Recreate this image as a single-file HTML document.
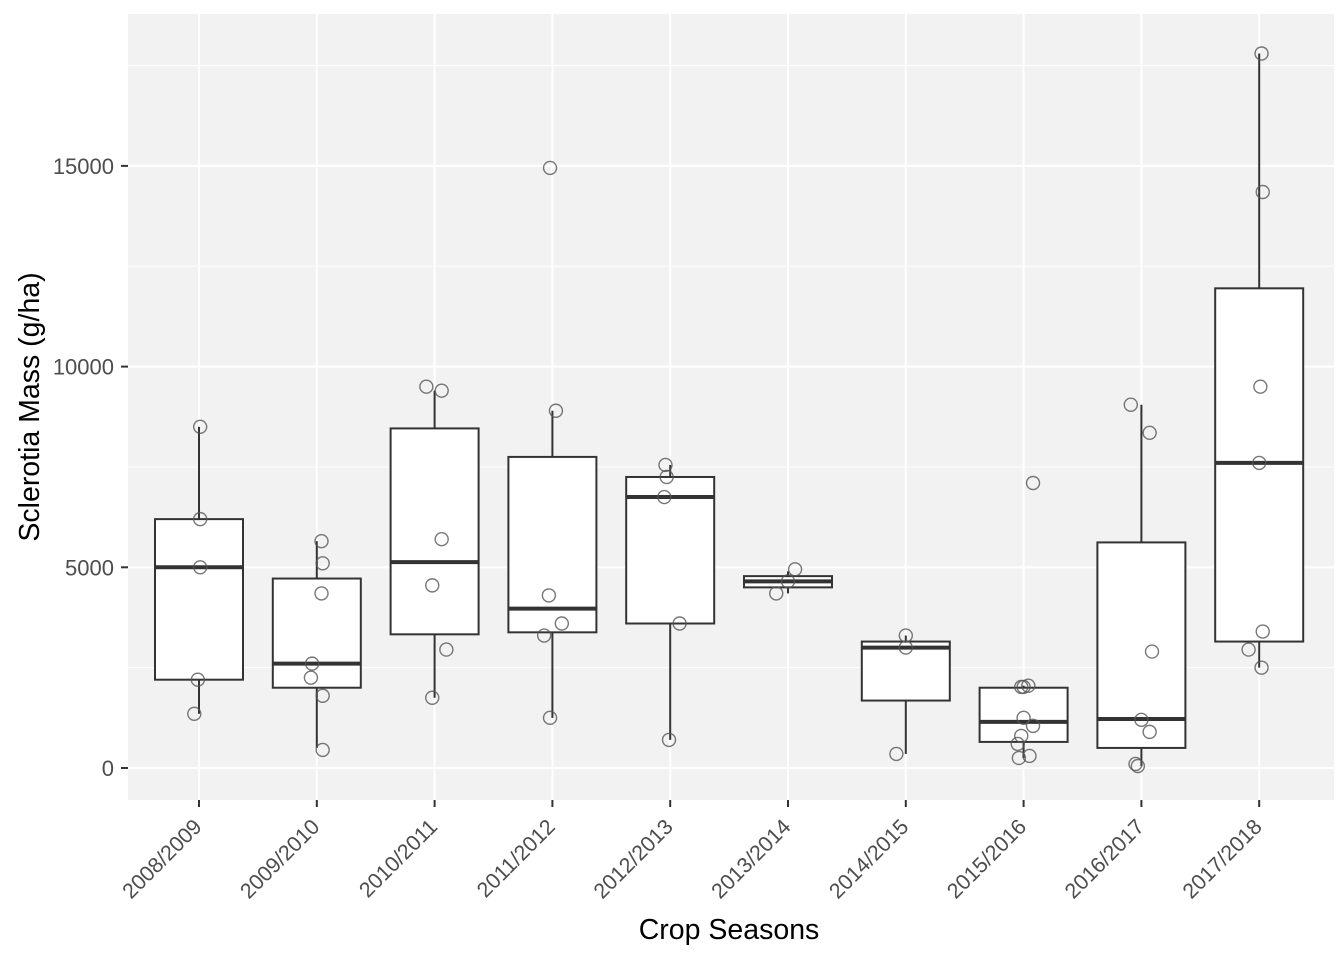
<!DOCTYPE html>
<html><head><meta charset="utf-8">
<style>
html,body{margin:0;padding:0;background:#fff;}
svg{display:block;font-family:"Liberation Sans",Arial,sans-serif;}
</style></head>
<body>
<svg id="chart" width="1344" height="960" viewBox="0 0 1344 960" xmlns="http://www.w3.org/2000/svg">
<rect x="128" y="14" width="1206" height="786" fill="#f2f2f2"/>
<g id="grid"></g><g id="marks"></g><g id="axes"></g>
<text x="729" y="939" font-size="28.5" text-anchor="middle" fill="#000">Crop Seasons</text>
<text transform="translate(39,407) rotate(-90)" font-size="28.5" text-anchor="middle" fill="#000">Sclerotia Mass (g/ha)</text>
</svg>
<script>
const categories=["2008/2009","2009/2010","2010/2011","2011/2012","2012/2013","2013/2014","2014/2015","2015/2016","2016/2017","2017/2018"];
const q1=[2200,2000,3330,3380,3600,4500,1680,650,500,3150];
const medians=[5000,2600,5130,3970,6750,4650,3000,1150,1220,7600];
const q3=[6200,4720,8460,7750,7250,4780,3150,2000,5620,11950];
const whiskerLow=[1350,500,1750,1250,700,4350,350,250,50,2500];
const whiskerHigh=[8500,5650,9400,8900,7550,4900,3300,2050,9050,17800];
const points=[
 [8500,6200,5000,2200,1350],
 [5650,5100,4350,2600,2250,1800,450],
 [9500,9400,5700,4550,2950,1750],
 [14950,8900,4300,3600,3300,1250],
 [7550,7250,6750,3600,700],
 [4950,4350,4650],
 [3300,3000,350],
 [7100,2020,2020,2050,1250,1050,800,600,250,300],
 [9050,8350,2900,1200,900,100,50],
 [17800,14350,9500,7600,3400,2950,2500]];
const jitter=[
 [0.01,0.01,0.01,-0.01,-0.04],
 [0.04,0.05,0.04,-0.04,-0.05,0.05,0.05],
 [-0.07,0.06,0.06,-0.02,0.1,-0.02],
 [-0.02,0.03,-0.03,0.08,-0.07,-0.02],
 [-0.04,-0.03,-0.05,0.08,-0.01],
 [0.06,-0.1,0.0],
 [0.0,0.0,-0.08],
 [0.08,-0.02,0.0,0.04,0.0,0.08,-0.02,-0.05,-0.04,0.05],
 [-0.09,0.07,0.09,0.0,0.07,-0.05,-0.03],
 [0.02,0.03,0.01,0.0,0.03,-0.09,0.02]];
const yTicks=[0,5000,10000,15000];
const yMinor=[2500,7500,12500,17500];
const NS="http://www.w3.org/2000/svg";
const X0=199,DX=117.8,Y0=768,KY=200.7/5000;
const xs=i=>X0+i*DX;
const ys=v=>Y0-v*KY;
function mk(t,a,p){const e=document.createElementNS(NS,t);for(const k in a)e.setAttribute(k,a[k]);p.appendChild(e);return e;}
const grid=document.getElementById('grid'),marks=document.getElementById('marks'),axes=document.getElementById('axes');
yMinor.forEach(v=>{const l=mk('line',{x1:128,x2:1334,y1:ys(v),y2:ys(v),stroke:'#fff','stroke-width':1},grid);

});
yTicks.forEach(v=>{const l=mk('line',{x1:128,x2:1334,y1:ys(v),y2:ys(v),stroke:'#fff','stroke-width':2},grid);


const t=mk('line',{x1:121,x2:128,y1:ys(v),y2:ys(v),stroke:'#333','stroke-width':2},axes);


const tx=mk('text',{x:114,y:ys(v)+8,'font-size':22,'text-anchor':'end',fill:'#4d4d4d'},axes);tx.textContent=v;

});
categories.forEach((c,i)=>{const x=xs(i);
const g=mk('line',{x1:x,x2:x,y1:14,y2:800,stroke:'#fff','stroke-width':2},grid);


const t=mk('line',{x1:x,x2:x,y1:800,y2:807,stroke:'#333','stroke-width':2},axes);


const tx=mk('text',{x:0,y:0,'font-size':21.5,'text-anchor':'end',fill:'#4d4d4d',transform:`translate(${x+4},${828}) rotate(-45)`},axes);tx.textContent=c;


const bg=mk('g',{},marks);


mk('line',{x1:x,x2:x,y1:ys(whiskerHigh[i]),y2:ys(q3[i]),stroke:'#333','stroke-width':2},bg);
mk('line',{x1:x,x2:x,y1:ys(q1[i]),y2:ys(whiskerLow[i]),stroke:'#333','stroke-width':2},bg);
mk('rect',{x:x-44,y:ys(q3[i]),width:88,height:ys(q1[i])-ys(q3[i]),fill:'#fff',stroke:'#333','stroke-width':2},bg);
mk('line',{x1:x-44,x2:x+44,y1:ys(medians[i]),y2:ys(medians[i]),stroke:'#333','stroke-width':4},bg);
});
points.forEach((arr,i)=>arr.forEach((v,j)=>{
const p=mk('circle',{cx:xs(i+jitter[i][j]),cy:ys(v),r:6.5,fill:'none',stroke:'#555','stroke-opacity':0.8,'stroke-width':1.4},marks);


}));
</script>
</body></html>
